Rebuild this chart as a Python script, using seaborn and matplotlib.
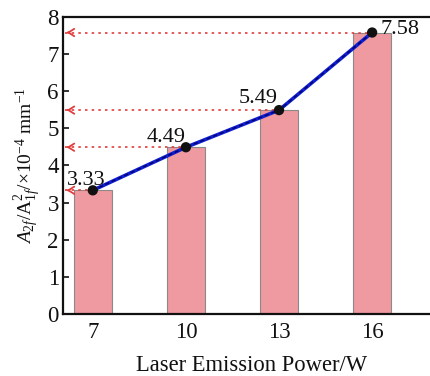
import matplotlib
matplotlib.use("Agg")
import matplotlib.pyplot as plt
import seaborn as sns
import pandas as pd

powers = ["7", "10", "13", "16"]
ratios = [3.33, 4.49, 5.49, 7.58]
labels = ["3.33", "4.49", "5.49", "7.58"]
yticks = [0, 1, 2, 3, 4, 5, 6, 7, 8]

sns.set_theme(style="ticks")
plt.rcParams['font.family'] = ['Liberation Serif', 'DejaVu Serif']
plt.rcParams['mathtext.fontset'] = 'custom'
plt.rcParams['mathtext.rm'] = 'Liberation Serif'
plt.rcParams['mathtext.it'] = 'Liberation Serif:italic'

df = pd.DataFrame({"power": powers, "ratio": ratios})

fig = plt.figure(figsize=(4.30, 3.76), dpi=100)
ax = fig.add_axes([0.1465, 0.165, 0.877, 0.79])

sns.barplot(data=df, x="power", y="ratio", order=powers, width=0.41,
            color="#ef9aa0", saturation=1, edgecolor="#8a8a8a", linewidth=0.8, ax=ax)

xl = (-0.32, 3.73)
# red dotted guide lines with arrowheads
for i, v in enumerate(ratios):
    ax.plot([xl[0] + 0.02, i], [v, v], linestyle=(0, (1.5, 2.5)), color="#e03c3c",
            lw=1.2, zorder=3)
    ax.annotate("", xy=(xl[0] + 0.01, v), xytext=(xl[0] + 0.09, v),
                arrowprops=dict(arrowstyle="->,head_length=0.35,head_width=0.22",
                                color="#e03c3c", lw=1.3), zorder=4)

sns.lineplot(x=powers, y=ratios, sort=False, color="#1020d0", lw=2.6, ax=ax, zorder=5)
sns.lineplot(x=powers, y=ratios, sort=False, color="#000070", lw=1.0,
             linestyle=(0, (3, 2)), ax=ax, zorder=6)
sns.scatterplot(x=powers, y=ratios, color="#111111", s=55, edgecolor="none", ax=ax, zorder=7)

offsets = [(9, 4, "right"), (0, 4, "right"), (-1, 5, "right"), (6, -1, "left")]
for i, (v, t) in enumerate(zip(ratios, labels)):
    dx, dy, ha = offsets[i]
    ax.annotate(t, xy=(i, v), xytext=(dx, dy), textcoords="offset points",
                ha=ha, va="baseline", fontsize=16, color="#111111", zorder=8)

ax.set_xlim(*xl)
ax.set_ylim(0, 8)
ax.set_yticks(yticks)
ax.tick_params(axis="y", direction="in", length=4, width=1.2, labelsize=16.5, pad=3,
               colors="#111111")
ax.tick_params(axis="x", length=0, labelsize=16.5, pad=6, colors="#111111")
for s in ["left", "bottom", "top"]:
    ax.spines[s].set_linewidth(1.6)
    ax.spines[s].set_color("#111111")
ax.spines["right"].set_visible(False)

ax.set_xlabel("Laser Emission Power/W", fontsize=16.3, labelpad=8.5, color="#111111")
ax.set_ylabel(r"$\mathit{A}_{2f}$/A$_{1f}^{2}$/×10$^{-4}$ mm$^{-1}$", fontsize=14,
              labelpad=3, color="#111111")

fig.savefig("out.png", dpi=100)
